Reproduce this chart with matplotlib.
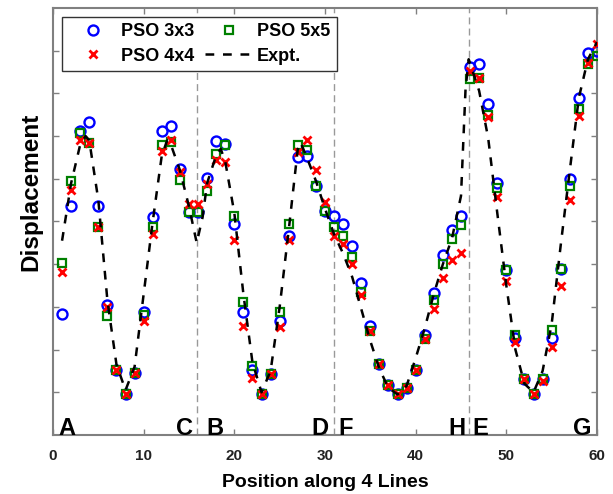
import matplotlib
matplotlib.use("Agg")
import matplotlib.pyplot as plt
import numpy as np

plt.rcParams['font.family'] = ['Liberation Sans', 'DejaVu Sans']
plt.rcParams['font.weight'] = 'bold'

# Positions 1..60 along the four lines
position = list(range(1, 61))

pso_3x3 = [2.83, 5.37, 7.13, 7.34, 5.37, 3.05, 1.52, 0.97, 1.46, 2.87,
           5.10, 7.11, 7.23, 6.23, 5.22, 5.22, 6.01, 6.88, 6.81, 4.95,
           2.87, 1.52, 0.97, 1.43, 2.67, 4.67, 6.50, 6.54, 5.84, 5.24,
           5.12, 4.93, 4.42, 3.56, 2.55, 1.67, 1.17, 0.97, 1.11, 1.52,
           2.34, 3.32, 4.21, 4.81, 5.12, 8.61, 8.68, 7.76, 5.90, 3.86,
           2.27, 1.31, 0.97, 1.32, 2.26, 3.88, 6.00, 7.89, 8.94, 9.00]

pso_4x4 = [3.81, 5.74, 6.91, 6.85, 4.87, 3.00, 1.52, 0.97, 1.46, 2.66,
           4.71, 6.66, 6.90, 6.15, 5.41, 5.41, 5.88, 6.43, 6.39, 4.56,
           2.55, 1.34, 0.97, 1.43, 2.52, 4.57, 6.62, 6.91, 6.21, 5.45,
           4.67, 4.48, 4.00, 3.27, 2.43, 1.67, 1.17, 0.97, 1.11, 1.52,
           2.24, 2.96, 3.68, 4.11, 4.27, 8.53, 8.37, 7.44, 5.57, 3.61,
           2.18, 1.31, 0.97, 1.27, 2.05, 3.50, 5.51, 7.48, 8.72, 9.15]

pso_5x5 = [4.02, 5.96, 7.07, 6.85, 4.87, 2.79, 1.52, 0.97, 1.46, 2.80,
           4.87, 6.78, 6.87, 5.97, 5.22, 5.22, 5.72, 6.57, 6.78, 5.14,
           3.11, 1.61, 0.97, 1.43, 2.87, 4.95, 6.78, 6.67, 5.84, 5.24,
           4.88, 4.66, 4.17, 3.35, 2.43, 1.67, 1.17, 0.97, 1.11, 1.52,
           2.24, 3.15, 4.01, 4.58, 4.91, 8.33, 8.37, 7.50, 5.79, 3.86,
           2.35, 1.31, 0.97, 1.32, 2.45, 3.88, 5.84, 7.63, 8.68, 8.88]

# Measured profile
expt_x = [1, 2, 3, 3.6, 4, 5, 6, 7, 8, 9, 10, 11, 12, 12.6, 13, 14, 15, 15.85,
          16.5, 17, 18, 18.5, 19, 20, 21, 22, 23, 24, 25, 26, 27, 27.3, 28, 29,
          30, 31, 32, 33, 34, 35, 36, 37, 38, 39, 40, 41, 42, 43, 44, 45, 45.5,
          45.85, 47, 48, 49, 50, 51, 52, 53, 54, 55, 56, 57, 58, 59, 60]
expt_y = [4.55, 5.9, 6.8, 7.0, 6.9, 5.5, 3.15, 1.65, 1.05, 1.6, 3.3, 5.0, 6.55, 6.9, 6.8, 6.2, 5.35, 4.5,
          5.1, 5.9, 6.55, 6.7, 6.4, 5.2, 3.3, 1.7, 1.0, 1.5, 3.0, 4.8, 6.7, 6.85, 6.5, 5.95,
          5.3, 4.7, 4.25, 3.7, 2.95, 2.2, 1.55, 1.1, 0.95, 1.15, 1.8, 2.5, 3.3, 4.0, 4.6, 5.6, 8.1,
          8.8, 8.06, 6.95, 5.2, 3.5, 2.0, 1.2, 1.0, 1.5, 2.6, 4.45, 6.2, 7.9, 8.8, 9.2]

line_breaks = [15.85, 30.95, 45.85]
line_labels = ['A', 'C', 'B', 'D', 'F', 'H', 'E', 'G']
label_x = [1.55, 14.5, 17.85, 29.4, 32.3, 44.6, 47.1, 58.4]

fig = plt.figure(figsize=(6.13, 4.94), dpi=100)
ax = fig.add_axes([53 / 613, 1 - 435 / 494, 544 / 613, 427 / 494])

for xb in line_breaks:
    ax.axvline(xb, color='#999999', lw=1.0, ls=(0, (5, 3)), zorder=1)

ax.plot(position, pso_3x3, 'o', ls='none', mfc='none', mec='#0000ff', mew=1.7,
        ms=7.2, label='PSO 3x3', zorder=3)
ax.plot(position, pso_5x5, 's', ls='none', mfc='none', mec='#008000', mew=1.6,
        ms=5.8, label='PSO 5x5', zorder=4)
ax.plot(position, pso_4x4, 'x', ls='none', color='#ff0000', mew=2.0,
        ms=5.5, label='PSO 4x4', zorder=5)
ax.plot(expt_x, expt_y, color='black', lw=1.8, ls=(0, (3.5, 3.5)),
        label='Expt.', zorder=6)

for lab, lx in zip(line_labels, label_x):
    ax.text(lx, 0.0, lab, ha='center', va='baseline', fontsize=17,
            fontweight='bold', color='black', zorder=7)

ax.set_xlim(0, 60)
ax.set_ylim(0, 10)
ax.set_xticks(range(0, 61, 10))
ax.set_yticks(range(1, 10))
ax.set_yticklabels([])
ax.tick_params(direction='in', length=4, width=1, colors='#808080',
               top=True, right=True, labelsize=11, pad=10)
for lbl in ax.get_xticklabels():
    lbl.set_color('#222222')
    lbl.set_fontweight('bold')
for sp in ax.spines.values():
    sp.set_color('#808080')
    sp.set_linewidth(1.5)

ax.set_xlabel('Position along 4 Lines', fontsize=14, fontweight='bold', labelpad=8)
fig.text(31 / 613, 1 - 192 / 494, 'Displacement', rotation=90, ha='center',
         va='center', fontsize=17.5, fontweight='bold')

h, l = ax.get_legend_handles_labels()
order = [0, 2, 1, 3]
leg = ax.legend([h[i] for i in order], [l[i] for i in order], ncol=2,
                loc='upper left', bbox_to_anchor=(62 / 613, 1 - 17 / 494),
                bbox_transform=fig.transFigure, borderaxespad=0,
                fancybox=False, edgecolor='#333333', framealpha=1,
                prop={'size': 13, 'weight': 'bold'}, numpoints=1,
                handlelength=2.7, handletextpad=0.2, columnspacing=0.6,
                labelspacing=0.4, borderpad=0.35)
leg.get_frame().set_linewidth(1.0)

fig.savefig('out.png', dpi=100)
